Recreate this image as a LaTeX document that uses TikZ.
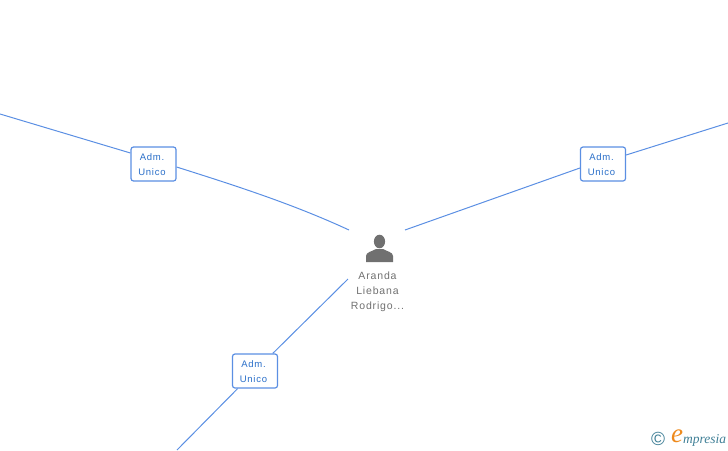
\documentclass[tikz,border=0pt]{standalone}
\usepackage{xcolor}
\usepackage{fontspec}
\setmainfont{Liberation Sans}
\newfontfamily\spacedfont[LetterSpace=8]{Liberation Sans}
\newfontfamily\logofont{Liberation Serif}
\usetikzlibrary{positioning,calc}
\definecolor{linkblue}{HTML}{5B8FE3}
\definecolor{labelblue}{HTML}{2A6FC9}
\definecolor{persongray}{HTML}{707070}
\definecolor{logoteal}{HTML}{3F7F96}
\definecolor{logoorange}{HTML}{EE8A1D}
\newcommand{\admtext}{\rule{0pt}{9pt}Adm.\kern3pt\\Unico\kern3pt}
\tikzset{
  admbox/.style={draw=linkblue,line width=1.2pt,rounded corners=2.5pt,fill=white,
    minimum width=45pt,minimum height=34pt,inner sep=0pt,align=center,
    text=labelblue,font=\fontsize{9.5}{15}\spacedfont},
  link/.style={draw=linkblue,line width=1pt},
}

\begin{document}
\begin{tikzpicture}[x=1pt,y=-1pt]
\useasboundingbox (0,0) rectangle (728,450);

% relation boxes
\node[admbox] (admleft) at (153.5,164) {\admtext};
\node[admbox] (admright) at (603,164) {\admtext};
\node[admbox] (admbottom) at (255,371) {\admtext};

% free ends
\coordinate (leftout) at (0,114);
\coordinate (rightout) at (728,123);
\coordinate (bottomout) at (177,450);
\coordinate (leftin) at (349,230);
\coordinate (rightin) at (405,230);
\coordinate (bottomin) at (348,279);

\draw[link] (leftout) -- ([yshift=11pt]admleft.west);
\draw[link] ([yshift=-3pt]admleft.east) .. controls (240,187) and (295,205) .. (leftin);
\draw[link] (rightout) -- ([yshift=9pt]admright.east);
\draw[link] ([yshift=-4pt]admright.west) -- (rightin);
\draw[link] (bottomin) -- (admbottom);
\draw[link] (admbottom) -- (bottomout);

% person
\fill[persongray] (379.5,241.5) ellipse (5.6 and 6.8);
\fill[persongray] (366,262) -- (366,256) .. controls (366,252) and (372,251.5) .. (376,249)
  -- (383,249) .. controls (387,251.5) and (393,252) .. (393,256) -- (393,262) -- cycle;
\node[text=persongray,align=center,font=\fontsize{10.5}{15}\spacedfont] (person) at (377.5,292)
  {Aranda\\Liebana\\Rodrigo...};

% logo
\node[text=logoteal,font=\fontsize{19}{19}\selectfont,inner sep=0pt] (copyr) at (658,438.5) {©};
\node[text=logoorange,font=\fontsize{27}{27}\logofont\itshape,inner sep=0pt] (logoe) at (677,436) {e};
\node[text=logoteal,font=\fontsize{13.5}{13.5}\logofont\itshape,inner sep=0pt,anchor=base west] (logotext) at (683,443) {mpresia};
\end{tikzpicture}
\end{document}
